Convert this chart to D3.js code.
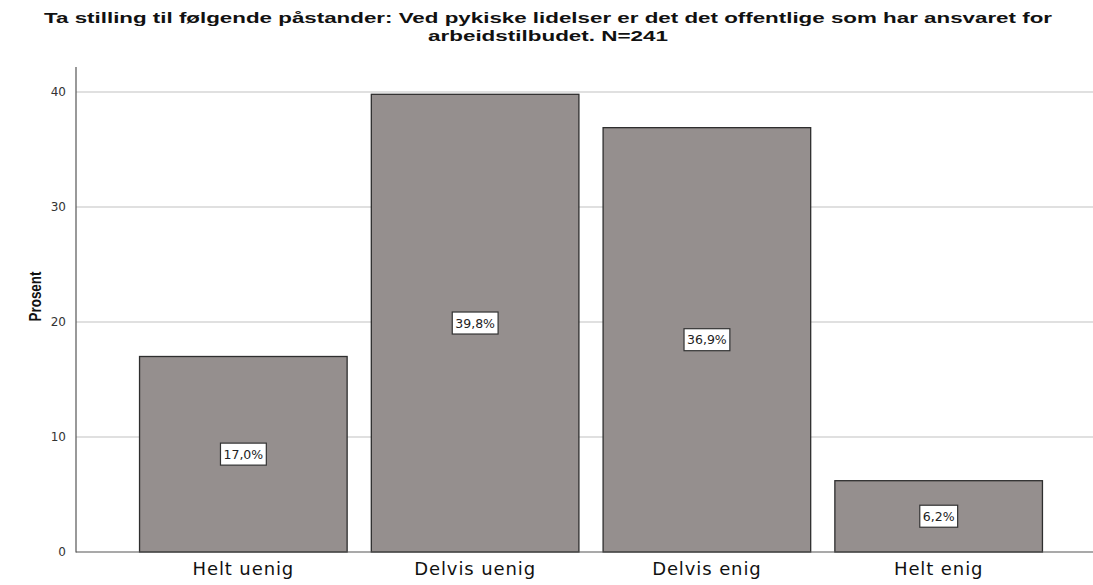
<!DOCTYPE html>
<html><head><meta charset="utf-8">
<script src="https://cdn.jsdelivr.net/npm/d3@7"></script>
<style>body{margin:0;background:#fff;} svg{display:block;}</style>
</head><body>
<svg id="c" width="1093" height="585"></svg>
<script>
const categories = ["Helt uenig", "Delvis uenig", "Delvis enig", "Helt enig"];
const values = [17.0, 39.8, 36.9, 6.2];
const valueLabels = ["17,0%", "39,8%", "36,9%", "6,2%"];
const yTicks = [0, 10, 20, 30, 40];
const titleLines = ["Ta stilling til følgende påstander: Ved pykiske lidelser er det det offentlige som har ansvaret for", "arbeidstilbudet. N=241"];
const yTitle = "Prosent";

const svg = d3.select("#c");
const axisX = 76, y0 = 552, yTop = 67;
const y = d3.scaleLinear().domain([0, 40]).range([y0, y0 - 460]);
const x = d3.scaleBand().domain(categories).range([axisX, 1106]).paddingInner(0.1).paddingOuter(0.272);

// gridlines
svg.append("g").selectAll("line").data(yTicks.filter(d => d > 0)).join("line")
  .attr("x1", axisX).attr("x2", 1093).attr("y1", d => y(d)).attr("y2", d => y(d))
  .attr("stroke", "#d6d6d6").attr("stroke-width", 1.5);

// bars
svg.append("g").selectAll("rect").data(values).join("rect")
  .attr("x", (d, i) => x(categories[i]) + 0.5).attr("width", x.bandwidth() - 1)
  .attr("y", d => y(d)).attr("height", d => y(0) - y(d))
  .attr("fill", "#958f8e").attr("stroke", "#2e2e2e").attr("stroke-width", 1.3);

// y axis
const yAxis = d3.axisLeft(y).tickValues(yTicks).tickSize(0).tickPadding(10).tickFormat(d3.format("d"));
const ga = svg.append("g").attr("transform", `translate(${axisX},0)`).call(yAxis);
ga.select(".domain").remove();
ga.selectAll("text").attr("font-family", "DejaVu Sans, sans-serif").attr("font-size", 12).attr("fill", "#333");
svg.append("line").attr("x1", axisX).attr("x2", axisX).attr("y1", yTop).attr("y2", y0 + 0.5)
  .attr("stroke", "#555").attr("stroke-width", 1.2);
// baseline
svg.append("line").attr("x1", axisX).attr("x2", 1093).attr("y1", y0).attr("y2", y0)
  .attr("stroke", "#555").attr("stroke-width", 1.2);

// x labels
const xAxis = d3.axisBottom(x).tickSize(0).tickPadding(10);
const gx = svg.append("g").attr("transform", `translate(0,${y0})`).call(xAxis);
gx.select(".domain").remove();
gx.selectAll("text").attr("font-family", "DejaVu Sans, sans-serif").attr("font-size", 18)
  .attr("letter-spacing", "0.9px").attr("fill", "#111");

// value labels
const lg = svg.append("g").selectAll("g").data(values).join("g")
  .attr("transform", (d, i) => `translate(${x(categories[i]) + x.bandwidth() / 2},${y(d / 2)})`);
lg.append("text").attr("class", "vl").text((d, i) => valueLabels[i])
  .attr("text-anchor", "middle").attr("dy", "0.35em")
  .attr("font-family", "DejaVu Sans, sans-serif").attr("font-size", 12.5).attr("fill", "#222");
lg.each(function () {
  const g = d3.select(this);
  const bb = g.select("text").node().getBBox();
  g.insert("rect", "text").attr("x", bb.x - 3).attr("y", bb.y - 3.5).attr("width", bb.width + 6).attr("height", bb.height + 7)
    .attr("fill", "#fff").attr("stroke", "#333").attr("stroke-width", 1.2);
});

// title
const tw = [1008, 240];
svg.append("g").selectAll("text").data(titleLines).join("text")
  .attr("x", 548).attr("y", (d, i) => 23 + i * 18)
  .attr("text-anchor", "middle").attr("font-family", "Liberation Sans, Arial, sans-serif")
  .attr("font-weight", "bold").attr("font-size", 15.5).attr("fill", "#111")
  .attr("textLength", (d, i) => tw[i]).attr("lengthAdjust", "spacingAndGlyphs")
  .text(d => d);

// y title
svg.append("text").attr("transform", `translate(41,${(yTop + y0) / 2 - 13}) rotate(-90)`)
  .attr("text-anchor", "middle").attr("font-family", "Liberation Sans, Arial, sans-serif")
  .attr("font-weight", "bold").attr("font-size", 16).attr("fill", "#111")
  .attr("textLength", 50).attr("lengthAdjust", "spacingAndGlyphs").text(yTitle);
</script>
</body></html>
